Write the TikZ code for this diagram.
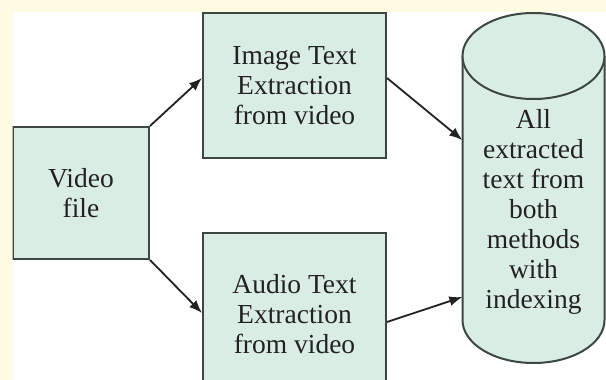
\documentclass[tikz,border=0pt]{standalone}
\usepackage{fontspec}
\setmainfont{Liberation Serif}
\usetikzlibrary{arrows.meta}
\definecolor{cream}{HTML}{FFFBE3}
\definecolor{mint}{HTML}{DAEDE4}
\definecolor{edge}{HTML}{3C4742}
\definecolor{ink}{HTML}{222222}
\begin{document}
\begin{tikzpicture}[x=1pt,y=-1pt,
  txt/.style={align=center, text=ink, font=\fontsize{27.5}{30}\selectfont, inner sep=0pt},
  box/.style={txt, draw=edge, line width=2pt, fill=mint},
  link/.style={draw=ink, line width=1.8pt, -{Latex[length=13pt,width=10pt]}}]
\useasboundingbox (0,0) rectangle (606,380);
% page margin and white canvas
\fill[cream] (0,0) rectangle (606,380);
\fill[white] (12.5,11.5) rectangle (606,380);
\begin{scope}
\clip (12.5,11.5) rectangle (606,380);
% process boxes
\node[box, minimum width=136pt, minimum height=132pt] (video) at (81,193) {Video\\file};
\node[box, minimum width=183pt, minimum height=145pt] (imgx) at (294.5,85.5) {Image Text\\Extraction\\from video};
\node[box, minimum width=183pt, minimum height=162pt] (audx) at (294.5,314) {Audio Text\\Extraction\\from video};
% storage cylinder
\fill[mint] (462.5,56) -- (462.5,320) arc[start angle=180, end angle=0, x radius=71, y radius=43] -- (604.5,56) -- cycle;
\draw[edge, line width=2pt] (462.5,56) -- (462.5,320) arc[start angle=180, end angle=0, x radius=71, y radius=43] -- (604.5,56);
\draw[edge, line width=2pt, fill=mint] (533.5,56) ellipse[x radius=71, y radius=43];
\node[minimum width=142pt, minimum height=264pt, inner sep=0pt] (cyl) at (533.5,188) {};
\node[txt] (store) at (533.5,212) {All\\extracted\\text from\\both\\methods\\with\\indexing};
% connectors
\draw[link] (video.north east) -- (imgx.west |- 0,78);
\draw[link] (video.south east) -- (audx.west |- 0,313);
\draw[link] (imgx.east |- 0,78) -- (cyl.west |- 0,140);
\draw[link] (audx.east |- 0,322) -- (cyl.west |- 0,297);
\end{scope}
\end{tikzpicture}
\end{document}
